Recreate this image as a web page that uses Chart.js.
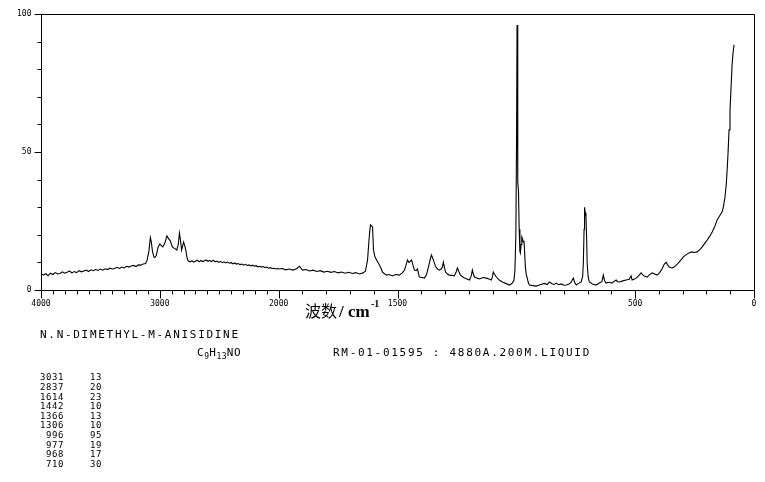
<!DOCTYPE html>
<html>
<head>
<meta charset="utf-8">
<script src="https://cdn.jsdelivr.net/npm/chart.js@4.4.1/dist/chart.umd.min.js"></script>
<style>
html,body{margin:0;padding:0;background:#fff;}
canvas{display:block;}
</style>
</head>
<body>
<canvas id="c" width="765" height="482"></canvas>
<script>
// ---- data (Raman shift, cm-1 / relative intensity) ----
const wavenumbers = [
4000,3980,3960,3940,3920,3900,3880,3860,3840,3820,3800,3780,3760,3740,3720,3700,3680,3660,3640,3620,
3600,3580,3560,3540,3520,3500,3480,3460,3440,3420,3400,3380,3360,3340,3320,3300,3280,3260,3240,3220,
3200,3180,3160,3140,3120,3109,3092,3080,3072,3062,3050,3042,3030,3015,3000,2985,2975,2958,2940,2925,
2912,2895,2874,2857,2845,2835,2826,2817,2808,2800,2790,2782,2770,2760,2745,2730,2715,2700,2685,2670,
2655,2640,2625,2610,2595,2580,2565,2550,2535,2520,2505,2490,2475,2460,2445,2430,2415,2400,2385,2370,
2355,2340,2325,2310,2295,2280,2265,2250,2235,2220,2205,2190,2175,2160,2145,2130,2115,2100,2085,2070,
2055,2040,2025,2010,2000,
1985,1970,1955,1940,1925,1912,1900,1885,1870,1855,1840,1825,1810,1795,1780,1765,1750,1735,1720,1705,
1690,1675,1660,1645,1635,1626,1619,1614,1609,1605,1601,1595,1588,1582,1576,1570,1563,1555,1546,1535,
1521,1508,1492,1480,1471,1464,1458,1452,1447,1441,1435,1429,1422,1416,1408,1397,1387,1378,1370,1361,
1357,1349,1342,1336,1330,1324,1316,1311,1307,1302,1298,1290,1282,1270,1261,1254,1248,1241,1235,1226,
1218,1208,1197,1190,1185,1180,1176,1165,1155,1140,1126,1115,1105,1100,1097,1090,1084,1072,1059,1045,
1029,1017,1010,1006,1002,999,997,995,993,991,988,985,983,980,977,974,971,968,966,962,
958,954,950,945,930,916,900,882,870,861,850,840,832,822,811,800,790,778,769,764,
760,755,748,738,727,721,718,715,713,710,707,704,702,698,693,680,664,651,640,634,
628,622,610,597,588,580,574,567,552,538,525,517,513,505,496,485,475,468,462,450,
440,429,418,408,397,387,378,370,364,357,345,336,322,307,295,282,270,261,250,239,
228,218,208,197,186,176,165,155,145,134,128,122,117,113,109,105,101,97,92,88,84
];
const intensities = [
6.0,5.4,5.9,5.2,6.1,5.6,6.3,5.8,6.0,6.6,6.1,6.4,6.9,6.2,6.7,6.3,7.0,6.6,6.9,7.2,
6.7,7.3,7.0,7.4,7.1,7.6,7.2,7.7,7.4,7.9,7.6,7.8,8.2,7.8,8.3,8.0,8.6,8.3,8.7,8.9,
8.5,9.1,9.0,9.4,9.6,10.5,14,19,17.5,14,12,11.8,12.5,15.5,16.7,16,15.6,17,19.6,18.5,
17.8,15.6,15,14.5,16.5,20.6,18,14.5,16,17.4,16,14.5,11.5,10.5,10.2,10.6,10.1,10.4,10.8,10.2,
10.7,10.3,10.6,10.9,10.4,10.7,10.3,10.8,10.2,10.5,10.0,10.4,9.9,10.2,9.8,10.1,9.7,9.9,9.5,9.8,
9.4,9.6,9.2,9.4,9.0,9.3,8.9,9.1,8.7,9.0,8.6,8.8,8.4,8.6,8.3,8.5,8.1,8.3,7.9,8.1,
7.8,7.9,7.6,7.8,7.6,
7.8,7.3,7.6,7.2,7.7,8.6,7.2,7.4,6.9,7.2,6.7,7.0,6.5,6.8,6.4,6.7,6.2,6.5,6.1,6.4,
6.0,6.3,5.8,6.2,6.8,10.9,19.2,23.6,23.2,22.8,14.5,12,10.9,10,9.1,8,6.5,5.9,5.4,5.6,
5.1,5.6,5.4,6.2,7.2,9,10.9,10.0,10.3,10.9,9,7.2,7.0,7.6,4.7,4.5,4.3,5.5,8.3,11.5,
12.7,10.9,9,8,7.5,7.2,7.6,8.3,10.1,8,6.5,5.8,5.4,5.3,5.1,6.3,8,6.5,5.4,4.8,
4.3,4.0,3.6,5.0,7.2,5.5,4.7,4.3,4.0,4.5,4.3,4.0,3.6,5.0,6.5,5.5,4.7,3.6,2.9,2.4,
1.8,2.5,3.5,7,20,55,96,60,39,36,22,14,13.4,16.5,19.2,18.5,17.4,17.8,15.2,8.3,
5.5,4.3,2.8,1.8,1.6,1.4,1.9,2.4,2.0,2.9,2.3,2.0,2.5,1.9,2.2,1.7,1.8,2.2,2.8,3.8,
4.3,2.8,1.8,2.4,2.9,5,9.8,22,30,28,26.4,18,9.8,5,2.9,2.2,1.8,2.5,3.0,5.4,
3.2,2.5,2.8,2.5,3.2,3.6,3.0,2.9,3.3,3.6,3.9,5.1,3.6,3.9,4.3,5.2,6.2,5.5,5.1,4.7,
5.5,6.2,5.8,5.4,6.3,7.6,9.3,10.1,9.2,8.3,8.0,8.3,9.5,10.9,12.2,13,13.6,13.8,13.6,13.8,
14.6,15.6,16.8,18.1,19.5,21,23,25.4,26.8,28.3,30.5,33.7,38,43.5,50,58,65,72.5,82,86,88.8
];
const xTickLabels = [4000, 3000, 2000, 1500, 500, 0];
const yTickLabels = [0, 50, 100];
const peakShifts = [3031, 2837, 1614, 1442, 1366, 1306, 996, 977, 968, 710];
const peakIntensities = [13, 20, 23, 10, 13, 10, 95, 19, 17, 30];
const compoundName = "N.N-DIMETHYL-M-ANISIDINE";
const sampleInfo = "RM-01-01595 : 4880A.200M.LIQUID";

// The x axis of this spectrum is compressed 2:1 above 2000 cm-1.
function toPos(wn) { return wn >= 2000 ? (4000 - wn) / 2 : 1000 + (2000 - wn); }

const points = wavenumbers.map((w, i) => ({ x: toPos(w), y: intensities[i] }));

const MONO = '"DejaVu Sans Mono", "Liberation Mono", monospace';

const decor = {
  id: 'decor',
  afterDraw(chart) {
    const ctx = chart.ctx;
    const a = chart.chartArea;
    const xs = chart.scales.x, ys = chart.scales.y;
    const L = Math.round(a.left) + 0.5, R = Math.round(a.right) + 0.5;
    const T = Math.round(a.top) + 0.5, B = Math.round(a.bottom) + 0.5;
    ctx.save();
    ctx.strokeStyle = '#000';
    ctx.fillStyle = '#000';
    ctx.lineWidth = 1;
    // frame
    ctx.beginPath();
    ctx.moveTo(L, T); ctx.lineTo(R, T);
    ctx.moveTo(L, B); ctx.lineTo(R, B);
    ctx.moveTo(L, T); ctx.lineTo(L, B);
    ctx.moveTo(R, T); ctx.lineTo(R, B);
    ctx.stroke();
    // x ticks every 100 cm-1
    ctx.beginPath();
    for (let w = 0; w <= 4000; w += 100) {
      const px = Math.round(xs.getPixelForValue(toPos(w))) + 0.5;
      const major = xTickLabels.includes(w);
      ctx.moveTo(px, B); ctx.lineTo(px, B + (major ? 8 : 4));
    }
    // y ticks every 10
    for (let v = 0; v <= 100; v += 10) {
      const py = Math.round(ys.getPixelForValue(v)) + 0.5;
      const major = yTickLabels.includes(v);
      ctx.moveTo(L, py); ctx.lineTo(L - (major ? 7 : 4), py);
    }
    ctx.stroke();
    // tick labels
    ctx.font = '8px ' + MONO;
    ctx.textBaseline = 'middle';
    ctx.textAlign = 'center';
    xTickLabels.forEach(w => {
      ctx.fillText(String(w), xs.getPixelForValue(toPos(w)), B + 13);
    });
    ctx.textAlign = 'right';
    yTickLabels.forEach(v => {
      ctx.fillText(String(v), L - 10, ys.getPixelForValue(v));
    });
    // axis title
    ctx.textAlign = 'left';
    ctx.textBaseline = 'alphabetic';
    ctx.font = '16px "Noto Sans CJK SC"';
    ctx.fillText('波数', 305, 317);
    ctx.font = 'bold 17px "Liberation Serif"';
    ctx.fillText('/', 339, 317);
    ctx.fillText('cm', 348, 317);
    ctx.font = 'bold 10px "Liberation Serif"';
    ctx.fillText('-1', 371, 307);
    // compound block
    ctx.font = '11px ' + MONO;
    ctx.letterSpacing = '1.7px';
    ctx.fillText(compoundName, 40, 338);
    ctx.fillText(sampleInfo, 333, 356);
    // formula C9H13NO with subscripts
    let fx = 197;
    const parts = [['C', 0], ['9', 1], ['H', 0], ['13', 1], ['N', 0], ['O', 0]];
    parts.forEach(([t, sub]) => {
      if (sub) { ctx.font = '8px ' + MONO; ctx.letterSpacing = '0.3px'; ctx.fillText(t, fx, 359); }
      else { ctx.font = '11px ' + MONO; ctx.letterSpacing = '0.6px'; ctx.fillText(t, fx, 356); }
      fx += ctx.measureText(t).width;
    });
    // peak table
    ctx.font = '9px ' + MONO;
    ctx.letterSpacing = '0.6px';
    ctx.textAlign = 'right';
    ctx.textBaseline = 'middle';
    peakShifts.forEach((s, i) => {
      const y = 378 + i * 9.6;
      ctx.fillText(String(s), 64, y);
      ctx.fillText(String(peakIntensities[i]), 102, y);
    });
    ctx.restore();
  }
};

new Chart(document.getElementById('c'), {
  type: 'line',
  data: {
    datasets: [{
      data: points,
      borderColor: '#000',
      borderWidth: 1.1,
      pointRadius: 0,
      tension: 0,
      fill: false
    }]
  },
  options: {
    responsive: false,
    animation: false,
    events: [],
    layout: { padding: { left: 41, right: 11, top: 14, bottom: 192 } },
    plugins: { legend: { display: false }, tooltip: { enabled: false } },
    scales: {
      x: { type: 'linear', min: 0, max: 3000, display: false },
      y: { type: 'linear', min: 0, max: 100, display: false }
    }
  },
  plugins: [decor]
});
</script>
</body>
</html>
